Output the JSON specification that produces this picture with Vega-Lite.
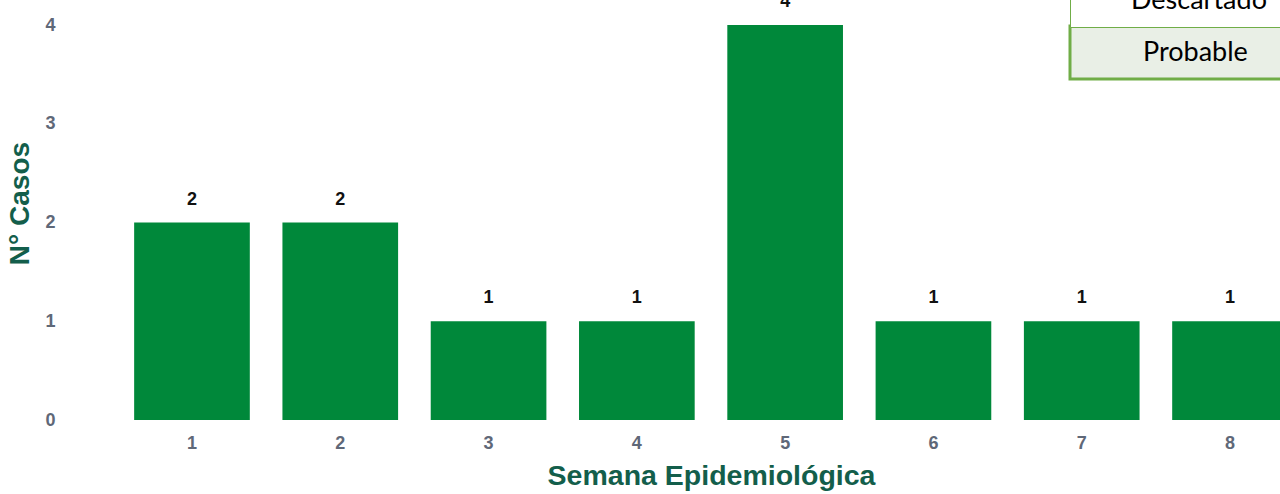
{
  "$schema": "https://vega.github.io/schema/vega-lite/v6.json",
  "width": 1302,
  "height": 395,
  "autosize": {"type": "none"},
  "padding": {"left": 60, "top": 25, "right": 0, "bottom": 74},
  "background": "white",
  "layer": [
    {
      "data": {"values": [
        {"semana": "1", "casos": 2, "clasif": "Probable"},
        {"semana": "2", "casos": 2, "clasif": "Probable"},
        {"semana": "3", "casos": 1, "clasif": "Probable"},
        {"semana": "4", "casos": 1, "clasif": "Probable"},
        {"semana": "5", "casos": 4, "clasif": "Probable"},
        {"semana": "6", "casos": 1, "clasif": "Probable"},
        {"semana": "7", "casos": 1, "clasif": "Probable"},
        {"semana": "8", "casos": 1, "clasif": "Probable"}
      ]},
      "encoding": {
        "x": {
          "field": "semana", "type": "ordinal",
          "scale": {"paddingInner": 0.22, "paddingOuter": 0.5},
          "axis": {
            "title": "Semana Epidemiológica", "labelAngle": 0, "ticks": false, "domain": false,
            "labelFont": "Liberation Sans", "labelFontSize": 18, "labelFontWeight": "bold", "labelColor": "#5f6878",
            "labelPadding": 14,
            "titleFont": "Liberation Sans", "titleFontSize": 28.5, "titleFontWeight": "bold", "titleColor": "#135e4b",
            "titlePadding": 9
          }
        },
        "y": {
          "field": "casos", "type": "quantitative",
          "scale": {"domain": [0, 4], "nice": false},
          "axis": {
            "title": "N° Casos", "grid": false, "ticks": false, "domain": false, "tickCount": 4,
            "labelFont": "Liberation Sans", "labelFontSize": 18, "labelFontWeight": "bold", "labelColor": "#5f6878",
            "labelPadding": 5,
            "titleFont": "Liberation Sans", "titleFontSize": 28, "titleFontWeight": "bold", "titleColor": "#135e4b",
            "titlePadding": 10, "titleY": 178
          }
        }
      },
      "layer": [
        {
          "mark": {"type": "bar"},
          "encoding": {
            "color": {
              "field": "clasif", "type": "nominal",
              "scale": {"domain": ["Probable"], "range": ["#00883a"]},
              "legend": {
                "orient": "none", "legendX": 1010, "legendY": 1,
                "title": "Probable", "titleOrient": "right", "titleOpacity": 0, "titleFontSize": 26, "titlePadding": 0,
                "fillColor": "#e9efe6", "strokeColor": "#70ad47", "padding": 13,
                "labelFont": "Lato", "labelFontSize": 27, "labelColor": "#000000", "labelOffset": 33,
                "symbolOpacity": 0, "symbolSize": 1, "symbolStrokeWidth": 0,
                "encode": {"legend": {"update": {"strokeWidth": {"value": 3}}}}
              }
            }
          }
        },
        {
          "mark": {"type": "text", "baseline": "alphabetic", "dy": -18, "font": "Liberation Sans", "fontSize": 18, "fontWeight": "bold", "color": "#111111"},
          "encoding": {"text": {"field": "casos", "type": "quantitative"}}
        }
      ]
    },
    {
      "data": {"values": [{"clasif": "Descartado"}]},
      "mark": {"type": "point", "opacity": 0},
      "encoding": {
        "shape": {
          "field": "clasif", "type": "nominal",
          "scale": {"domain": ["Descartado"]},
          "legend": {
            "orient": "none", "legendX": 1010, "legendY": -51,
            "title": "Descartado", "titleOrient": "right", "titleOpacity": 0, "titleFontSize": 26, "titlePadding": 0,
            "fillColor": "#ffffff", "strokeColor": "#70ad47", "padding": 13,
            "labelFont": "Lato", "labelFontSize": 27, "labelColor": "#000000", "labelOffset": 21,
            "symbolOpacity": 0, "symbolSize": 1, "symbolStrokeWidth": 0,
            "encode": {"legend": {"update": {"strokeWidth": {"value": 3}}}}
          }
        }
      }
    }
  ],
  "resolve": {"legend": {"color": "independent", "shape": "independent"}},
  "config": {"view": {"stroke": null}}
}
